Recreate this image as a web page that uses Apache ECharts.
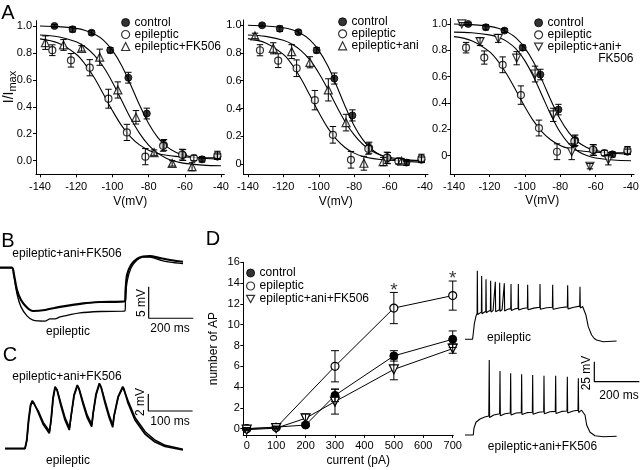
<!DOCTYPE html>
<html><head><meta charset="utf-8">
<script src="https://cdn.jsdelivr.net/npm/echarts@6/dist/echarts.min.js"></script>
<style>html,body{margin:0;padding:0;background:#fff}#c{width:640px;height:470px}</style>
</head><body><div id="c"></div>
<script>
// ---------- Panel A : steady-state inactivation (I/Imax vs V) ----------
const vTicks = [-140, -120, -100, -80, -60, -40];
const iTicks = [0, 0.2, 0.4, 0.6, 0.8, 1.0];
// fitted curves
const fitV = [-140,-130,-120,-115,-110,-105,-100,-95,-90,-85,-80,-75,-70,-65,-60,-50,-40];
const fitControl   = [1.0,0.995,0.982,0.967,0.940,0.895,0.819,0.709,0.566,0.413,0.276,0.173,0.104,0.063,0.039,0.018,0.012];
const fitEpileptic = [0.904,0.873,0.790,0.715,0.615,0.495,0.372,0.262,0.177,0.117,0.078,0.054,0.040,0.032,0.027,0.022,0.021];
const fitFK506     = [0.933,0.920,0.883,0.844,0.784,0.697,0.583,0.450,0.317,0.203,0.116,0.056,0.017,-0.006,-0.020,-0.033,-0.038];
const fitAni       = [0.930,0.920,0.892,0.863,0.817,0.750,0.656,0.542,0.418,0.303,0.209,0.140,0.094,0.064,0.046,0.029,0.023];
const fitAniFK506  = [0.938,0.933,0.917,0.899,0.866,0.810,0.722,0.598,0.450,0.302,0.178,0.090,0.034,0.001,-0.018,-0.033,-0.038];
// measured points
const ctrlV   = [-132,-122,-111.5,-101.2,-91.2,-81,-71.5,-61,-50.5,-42];
const ctrlI   = [1.0,0.975,0.95,0.82,0.616,0.35,0.117,0.042,0.01,0.03];
const ctrlErr = [0.01,0.02,0.015,0.02,0.04,0.04,0.04,0.04,0.02,0.02];
const epiV    = [-133.2,-122.9,-112.5,-102.2,-92,-81.8,-72,-61.5,-55,-42];
const epiI    = [0.82,0.745,0.69,0.46,0.21,0.03,0.11,0.045,0.02,0.04];
const epiErr  = [0.04,0.05,0.06,0.07,0.06,0.06,0.04,0.04,0.02,0.03];
const fkV     = [-137,-127,-117,-107,-97,-87,-77,-67,-56];
const fkI     = [0.876,0.859,0.834,0.768,0.525,0.322,0.06,-0.02,-0.045];
const fkErr   = [0.05,0.04,0.02,0.06,0.06,0.05,0.02,0.02,0.03];
const aniV    = [-136,-125.7,-115.3,-105,-94.6,-84.6,-74.5,-63.6,-53.2];
const aniI    = [0.923,0.834,0.81,0.733,0.534,0.298,0.005,0.017,0.02];
const aniErr  = [0.02,0.04,0.05,0.04,0.08,0.06,0.05,0.03,0.02];
const akV     = [-135.6,-125.3,-115,-104.6,-94.2,-83.9,-73.5,-63.2,-52.8];
const akI     = [1.0,0.866,0.89,0.74,0.62,0.31,0.03,-0.08,-0.03];
const akErr   = [0.01,0.03,0.03,0.05,0.06,0.05,0.06,0.02,0.04];

// ---------- Panel D : number of AP vs current ----------
const currents       = [0,100,200,300,500,700];
const apControl      = [0,0.15,0.35,3.2,7.0,8.6];
const apControlErr   = [0.1,0.1,0.15,0.6,0.5,0.8];
const epiCurrents    = [0,100,300,500,700];
const apEpileptic    = [0,0.1,6.0,11.6,12.8];
const apEpilepticErr = [0.1,0.1,1.5,1.5,1.4];
const apAniFK        = [-0.1,0.05,1.0,2.6,5.7,7.7];
const apAniFKErr     = [0.1,0.1,0.4,1.2,1.0,0.45];
const sigCurrents    = [500,700];
const currentTicks   = [0,100,200,300,400,500,600,700];
const apTicks        = [0,2,4,6,8,10,12,14,16];

// ---------- Panel B : hyperpolarising responses [ms, mV] ----------
const traceB_aniFK = [[0,0],[53.8,0],[62.8,-1.16],[76.3,-3.53],[94.2,-5.11],[121.1,-6.3],[148,-6.85],[201.9,-6.69],[269.2,-6.2],[374,-5.64],[448.6,-5.43],[560.8,-5.27],[563,-3.81],[569.8,-1.16],[587.7,0.43],[614.6,1.38],[641.5,1.77],[672.9,1.85],[717.8,1.53],[762.7,1.22],[821,0.95]];
const traceB_epi = [[0,0],[53.8,0],[62.8,-1.31],[76.3,-4.16],[94.2,-6.2],[121.1,-7.63],[148,-8.3],[201.9,-8.45],[224.3,-8.1],[246.7,-8.1],[269.2,-7.79],[358.9,-7.15],[448.6,-6.93],[560.8,-6.85],[563,-5.11],[569.8,-2.26],[587.7,-0.05],[614.6,1.22],[641.5,1.69],[672.9,1.69],[717.8,1.22],[762.7,0.9],[821,0.66]];
const scaleB = {t: 667, v: -3, ms: 200, mV: 5};

// ---------- Panel C : EPSP trains [ms, mV] ----------
const traceC_aniFK = [[11.3,0],[56.4,-0.02],[60.3,0.98],[64.3,3.33],[68.8,5.09],[72.9,5.6],[76.7,5.33],[85.8,4.27],[97.1,2.86],[111.3,1.76],[115.1,3.33],[119.6,5.92],[124.2,7.25],[128.7,6.86],[137.7,4.98],[146.7,3.33],[156.4,2.15],[160.3,3.8],[167,6.27],[174.5,7.45],[178.3,6.98],[187.4,5.21],[196.4,3.68],[207,2.54],[209.9,4.04],[216.7,6.39],[224.2,7.65],[228,7.21],[237,5.33],[246,3.68],[254.4,2.47],[257.3,3.8],[266.4,6.04],[277,7.25],[279.9,6.98],[288.9,5.33],[304.7,3.33],[327.3,1.68],[349.9,0.74],[372.5,0.21],[413,-0.2]];
const traceC_epi = [[11.3,-0.05],[56.4,-0.05],[60.8,0.9],[64.8,3.2],[69.3,5.0],[73.4,5.5],[77.2,5.3],[86.3,4.4],[97.6,3.05],[111.8,2.0],[115.6,3.3],[120.1,5.85],[124.7,7.15],[129.2,6.85],[138.2,5.15],[147.2,3.55],[156.9,2.4],[160.8,3.85],[167.5,6.2],[175,7.35],[178.8,6.98],[187.9,5.4],[196.9,3.9],[207.5,2.8],[210.4,4.1],[217.2,6.3],[224.7,7.55],[228.5,7.2],[237.5,5.5],[246.5,3.9],[254.9,2.72],[257.8,3.85],[266.9,6.0],[277.5,7.15],[280.4,6.98],[289.4,5.55],[305.2,3.6],[327.8,1.95],[350.4,0.95],[373,0.35],[413,-0.1]];
const scaleC = {t: 334.8, v: 6.39, ms: 100, mV: 2};

// ---------- Panel D insets : AP firing [ms, mV rel. baseline] ----------
const traceD_epi = [[22,0],[56,0],[59,7.5],[64,20],[71,29],[76,32.5],
 [77,85.8],[78.5,31],[86,33],[95,34],
 [96.3,79.1],[97.8,32],[106,34],[114.5,35],
 [115.6,75],[117,33],[126,35],[135,36],
 [136.3,73.3],[137.8,34],[147,36],[155.5,36.5],
 [157,72],[158.5,34.5],[167,36.5],[175,37],
 [176.3,70.8],[177.8,35],[187,37],[195.5,37.5],
 [197,70],[198.5,35.5],[212,37.5],[225.5,38.3],
 [226.7,69.1],[228.2,36],[244,38],[258,38.8],
 [259.3,69.1],[260.8,36.5],[280,38.5],[299.5,39.5],
 [300.7,68.3],[302.2,37],[328,39],[354.5,40],
 [355.6,69.1],[357,37.5],[385,39.5],[410.5,40],
 [411.9,68.3],[413.4,37.5],[445,39.5],[477,40.5],
 [478.5,67.5],[480,38],[506,40],[532,41.5],
 [533.3,65.8],[534.8,39],[545,41],[551,40.8],
 [560,30],[570,15.8],[585,5.4],[597,1],[607,-0.9],[637,-3],[696,-2.1]];
const traceD_aniFK = [[22,0],[59,0],[62,8.4],[71,15.9],[89,20],[110,22.5],[128,23.8],
 [130,93.8],[131.5,22],[150,25],[176,26.5],
 [177.8,80],[179.3,24],[200,26.5],[223.5,27.5],
 [225.2,77.1],[226.7,25],[250,27.5],[272.5,28],
 [274,75.9],[275.5,25.5],[300,28],[321.5,28.5],
 [323,75],[324.5,26],[350,28.5],[372,29],
 [373.3,74.1],[374.8,26.5],[400,29],[423.5,29.5],
 [425.2,74.1],[426.7,27],[452,29.5],[475.5,30],
 [477,72.9],[478.5,27.5],[503,30],[524.5,31],
 [525.9,70.9],[527.4,28],[540,31],[548,31.3],
 [555.6,25],[563,12.5],[577.8,3.4],[600,-0.9],[637,-2.1],[696,-1.6]];
const scaleD = {t: 597, v: 91.6, ms: 200, mV: 25};

// ================= build =================
const FONT = '"Liberation Sans", Arial, Helvetica, sans-serif';
const K = '#000';
const pts = (xs, ys) => xs.map((x, i) => [x, ys[i]]);
const pte = (xs, ys, es) => xs.map((x, i) => [x, ys[i], es[i]]);
const bar = s => [[s.t, s.v], [s.t, s.v - s.mV], [s.t + s.ms, s.v - s.mV]];

const G = (left, top, width, height) => ({left, top, width, height, containLabel: false, outerBoundsMode: 'none'});
const grid = [
  G(36, 20.7, 188.3, 153.6),     // 0 A1
  G(243.5, 20, 184.5, 154.2),    // 1 A2
  G(450.3, 18.3, 183.7, 155.7),  // 2 A3
  G(243.3, 262.3, 210, 172.6),   // 3 D
  G(0, 249.4, 195, 87.8),        // 4 B
  G(0, 376.05, 195, 80.75),      // 5 C
  G(460, 262.5, 180, 83.2),      // 6 D trace 1
  G(460, 358.2, 180, 83.2)       // 7 D trace 2
];

const axLine = {show: true, onZero: false, lineStyle: {color: K, width: 1}};
const tick = vals => ({show: true, length: 3, inside: false, customValues: vals, lineStyle: {color: K, width: 1}});
const lab = (vals, fmt, margin) => ({show: true, customValues: vals, formatter: fmt, fontSize: 11, fontFamily: FONT, color: K, margin});
const nameStyle = extra => Object.assign({fontSize: 12, fontFamily: FONT, color: K}, extra || {});
const hidden = (gi, min, max) => ({type: 'value', gridIndex: gi, min, max, show: false, splitLine: {show: false}});

function vAxis(gi, min, max) {
  return {type: 'value', gridIndex: gi, min, max, axisLine: axLine, axisTick: tick(vTicks),
    axisLabel: lab(vTicks, v => String(v), 7), splitLine: {show: false},
    name: 'V(mV)', nameLocation: 'middle', nameGap: 21, nameTextStyle: nameStyle()};
}
function iAxis(gi, min, max, fmt, margin) {
  return {type: 'value', gridIndex: gi, min, max, axisLine: axLine, axisTick: tick(iTicks),
    axisLabel: lab(iTicks, fmt, margin), splitLine: {show: false}};
}
const f1 = v => v.toFixed(1);
const f0 = v => (v === 0 ? '0' : v.toFixed(1));

const xAxis = [
  vAxis(0, -142.2, -38.2),
  vAxis(1, -142.5, -38.3),
  vAxis(2, -142.1, -38.3),
  {type: 'value', gridIndex: 3, min: -11.6, max: 702, axisLine: axLine, axisTick: tick(currentTicks),
   axisLabel: lab(currentTicks, v => String(v), 6), splitLine: {show: false},
   name: 'current (pA)', nameLocation: 'middle', nameGap: 20, nameTextStyle: nameStyle({padding: [0, 0, 0, 20]})},
  hidden(4, 0, 874.8), hidden(5, 0, 440.2), hidden(6, 0, 800), hidden(7, 0, 800)
];
const yAxis = [
  iAxis(0, -0.101, 1.039, f1, 4),
  iAxis(1, -0.074, 1.038, f0, 2),
  iAxis(2, -0.139, 1.043, f0, 3),
  {type: 'value', gridIndex: 3, min: -0.6, max: 16, axisLine: axLine, axisTick: tick(apTicks),
   axisLabel: lab(apTicks, v => String(v), 3.5), splitLine: {show: false},
   name: 'number of AP', nameLocation: 'middle', nameGap: 24, nameTextStyle: nameStyle()},
  hidden(4, -11, 2.9), hidden(5, -1, 8.5), hidden(6, -8, 96), hidden(7, -8, 96)
];

const series = [];
function curve(gi, ys) {
  series.push({type: 'line', xAxisIndex: gi, yAxisIndex: gi, data: pts(fitV, ys), symbol: 'none',
    smooth: 0.35, lineStyle: {color: K, width: 1.1}, z: 2, silent: true});
}
function errs(gi, data, hw) {
  series.push({type: 'custom', xAxisIndex: gi, yAxisIndex: gi, data, encode: {x: 0, y: 1}, z: 5, silent: true, clip: false,
    renderItem: (p, api) => {
      const x = api.value(0), y = api.value(1), e = api.value(2);
      const a = api.coord([x, y + e]), b = api.coord([x, y - e]);
      const st = {stroke: K, lineWidth: 1};
      return {type: 'group', children: [
        {type: 'line', shape: {x1: a[0], y1: a[1], x2: b[0], y2: b[1]}, style: st},
        {type: 'line', shape: {x1: a[0] - hw, y1: a[1], x2: a[0] + hw, y2: a[1]}, style: st},
        {type: 'line', shape: {x1: b[0] - hw, y1: b[1], x2: b[0] + hw, y2: b[1]}, style: st}]};
    }});
}
const FILLED = {color: K, borderColor: K, borderWidth: 1};
const OPEN = {color: '#fff', borderColor: K, borderWidth: 1.2};
function dots(gi, name, xs, ys, es, symbol, filled, rot) {
  series.push({type: 'scatter', name, xAxisIndex: gi, yAxisIndex: gi, data: pts(xs, ys), symbol,
    symbolSize: symbol === 'triangle' ? 8 : 7, symbolRotate: rot || 0, itemStyle: filled ? FILLED : OPEN, z: 4, silent: true});
  errs(gi, pte(xs, ys, es), 3.2);
}

// A1
curve(0, fitControl); curve(0, fitEpileptic); curve(0, fitFK506);
dots(0, 'control', ctrlV, ctrlI, ctrlErr, 'circle', true);
dots(0, 'epileptic', epiV, epiI, epiErr, 'circle', false);
dots(0, 'epileptic+FK506', fkV, fkI, fkErr, 'triangle', false);
// A2
curve(1, fitControl); curve(1, fitEpileptic); curve(1, fitAni);
dots(1, 'control', ctrlV, ctrlI, ctrlErr, 'circle', true);
dots(1, 'epileptic', epiV, epiI, epiErr, 'circle', false);
dots(1, 'epileptic+ani', aniV, aniI, aniErr, 'triangle', false);
// A3
curve(2, fitControl); curve(2, fitEpileptic); curve(2, fitAniFK506);
dots(2, 'control', ctrlV, ctrlI, ctrlErr, 'circle', true);
dots(2, 'epileptic', epiV, epiI, epiErr, 'circle', false);
dots(2, 'epileptic+ani+FK506', akV, akI, akErr, 'triangle', false, 180);

// D
function apLine(name, xs, ys, es, symbol, filled, rot) {
  series.push({type: 'line', name, xAxisIndex: 3, yAxisIndex: 3, data: pts(xs, ys), symbol, symbolSize: symbol === 'triangle' ? 9 : 8,
    symbolRotate: rot || 0, showAllSymbol: true, itemStyle: filled ? FILLED : OPEN, lineStyle: {color: K, width: 1}, z: 4, silent: true});
  errs(3, pte(xs, ys, es), 4);
}
apLine('control', currents, apControl, apControlErr, 'circle', true);
apLine('epileptic', epiCurrents, apEpileptic, apEpilepticErr, 'circle', false);
apLine('epileptic+ani+FK506', currents, apAniFK, apAniFKErr, 'triangle', false, 180);
// significance asterisks, placed above the epileptic error bars
series.push({type: 'scatter', xAxisIndex: 3, yAxisIndex: 3, symbol: 'circle', symbolSize: 1, silent: true, z: 6,
  itemStyle: {color: 'rgba(0,0,0,0)', borderWidth: 0},
  data: sigCurrents.map(c => { const i = epiCurrents.indexOf(c); return [c, apEpileptic[i] + apEpilepticErr[i]]; }),
  label: {show: true, position: 'inside', formatter: '*', fontSize: 19, fontFamily: FONT, color: K, offset: [0, -2]}});

// traces
const tr = (gi, data, w, smooth) => series.push({type: 'line', xAxisIndex: gi, yAxisIndex: gi, data, symbol: 'none', smooth: smooth || false,
  lineStyle: {color: K, width: w}, silent: true, z: 3});
tr(4, traceB_epi, 1.3, 0.25); tr(4, traceB_aniFK, 2.2, 0.25); tr(4, bar(scaleB), 1.2);
tr(5, traceC_epi, 1.5); tr(5, traceC_aniFK, 1.7); tr(5, bar(scaleC), 1.2);
tr(6, traceD_epi, 1.1); tr(7, traceD_aniFK, 1.1); tr(7, bar(scaleD), 1.2);

// legends
const LT = {fontSize: 12, fontFamily: FONT, color: K, lineHeight: 11.5};
const IN = 'path://M0,0L10,0L5,9Z';
const leg = (left, top, items, extra) => Object.assign({orient: 'vertical', left, top, itemWidth: 8, itemHeight: 8, itemGap: 0,
  selectedMode: false, padding: 0, textStyle: LT, data: items}, extra || {});
const legend = [
  leg(121, 16.5, [{name: 'control', icon: 'circle', itemStyle: FILLED},
                  {name: 'epileptic', icon: 'circle', itemStyle: OPEN},
                  {name: 'epileptic+FK506', icon: 'triangle', itemStyle: OPEN}]),
  leg(338, 15.8, [{name: 'control', icon: 'circle', itemStyle: FILLED},
                  {name: 'epileptic', icon: 'circle', itemStyle: OPEN},
                  {name: 'epileptic+ani', icon: 'triangle', itemStyle: OPEN}]),
  leg(534, 16.8, [{name: 'control', icon: 'circle', itemStyle: FILLED},
                  {name: 'epileptic', icon: 'circle', itemStyle: OPEN},
                  {name: 'epileptic+ani+FK506', icon: IN, itemStyle: OPEN}],
      {formatter: n => (n === 'epileptic+ani+FK506' ? 'epileptic+ani+' : n)}),
  leg(246, 267, [{name: 'control', icon: 'circle', itemStyle: FILLED},
                 {name: 'epileptic', icon: 'circle', itemStyle: OPEN},
                 {name: 'epileptic+ani+FK506', icon: IN, itemStyle: OPEN}], {itemGap: 1})
];

// text annotations
const txt = (text, x, y, size, extra) => Object.assign({type: 'text', x, y, silent: true,
  style: {text, fontSize: size, fontFamily: FONT, fill: K, align: 'center', verticalAlign: 'middle'}}, extra || {});
const graphic = [
  txt('A', 8, 13, 20), txt('B', 8, 241, 20), txt('C', 10, 355, 20), txt('D', 213, 239, 20),
  {type: 'text', x: 9, y: 87, rotation: Math.PI / 2, silent: true,
   style: {text: 'I/I{sub|max}', fontSize: 14, fontFamily: FONT, fill: K, align: 'center', verticalAlign: 'middle',
     rich: {sub: {fontSize: 11, fontFamily: FONT, fill: K, verticalAlign: 'bottom', padding: [7, 0, 0, 0]}}}},
  txt('FK506', 633.5, 58.5, 12, {style: {text: 'FK506', fontSize: 12, fontFamily: FONT, fill: K, align: 'right', verticalAlign: 'middle'}}),
  txt('epileptic+ani+FK506', 67, 254, 12), txt('epileptic', 68, 331.5, 12),
  txt('5 mV', 141.5, 303, 12, {rotation: Math.PI / 2}), txt('200 ms', 170, 329, 12),
  txt('epileptic+ani+FK506', 67, 376.5, 12), txt('epileptic', 68, 461, 12),
  txt('2 mV', 140.5, 402, 12, {rotation: Math.PI / 2}), txt('100 ms', 170, 421.5, 12),
  txt('epileptic', 509, 338, 12), txt('epileptic+ani+FK506', 542.5, 446.5, 12),
  txt('25 mV', 586.5, 373, 12, {rotation: Math.PI / 2}), txt('200 ms', 619, 395.5, 12)
];

const chart = echarts.init(document.getElementById('c'), null, {width: 640, height: 470});
chart.setOption({backgroundColor: '#fff', animation: false, textStyle: {fontFamily: FONT},
  grid, xAxis, yAxis, series, legend, graphic});
</script>
</body></html>
